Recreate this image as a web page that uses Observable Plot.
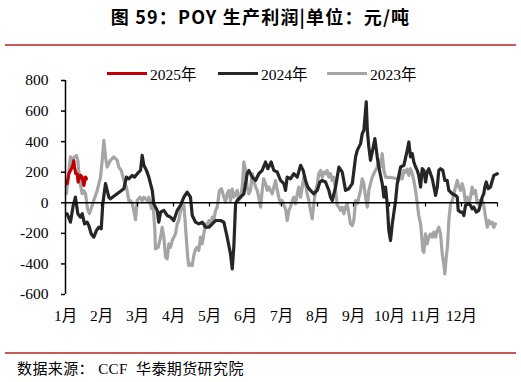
<!DOCTYPE html>
<html><head><meta charset="utf-8">
<script src="https://cdn.jsdelivr.net/npm/d3@7"></script>
<script src="https://cdn.jsdelivr.net/npm/@observablehq/plot@0.6"></script>
<style>
body{margin:0;background:#fff;width:521px;height:382px;position:relative;overflow:hidden;font-family:"Liberation Serif","Noto Sans CJK SC",serif;color:#000;}
#title{position:absolute;left:0;top:4px;width:521px;text-align:center;font-weight:700;font-size:18px;letter-spacing:1.2px;font-family:"Noto Sans CJK SC",sans-serif;line-height:24px;white-space:pre;}
#rule1{position:absolute;left:5px;width:511px;top:44px;height:2px;background:#c55a57;}
#legend{position:absolute;top:62px;left:0;width:521px;height:22px;z-index:2;}
.item{position:absolute;top:0;display:flex;align-items:center;height:22px;font-size:15.5px;white-space:nowrap;}
.sw{width:40px;height:3px;margin-right:3px;}
#chart{position:absolute;left:0;top:60px;}
#rule2{position:absolute;left:5px;width:511px;top:352px;height:2px;background:#c55a57;}
#foot{position:absolute;left:17px;top:358px;font-size:15px;letter-spacing:0.4px;line-height:22px;white-space:pre;}
</style>
</head>
<body>
<div id="title">图 59：POY 生产利润|单位：元/吨</div>
<div id="rule1"></div>
<div id="legend"></div>
<div id="chart"></div>
<div id="rule2"></div>
<div id="foot">数据来源： CCF  华泰期货研究院</div>
<script>
const monthLabels = ["1月","2月","3月","4月","5月","6月","7月","8月","9月","10月","11月","12月"];
const yTicks = [-600,-400,-200,0,200,400,600,800];
const seriesNames = ["2025年","2024年","2023年"];

const days2025 = [1.4,2.8,4.2,5.7,7.0,7.6,8.7,9.9,10.7,11.8,12.7,14.1,15.5,16.9,17.7];
const profit2025 = [125,190,212,234,275,234,190,190,135,168,180,168,114,168,157];

const days2024 = [1.4,4.2,6.5,8.4,10.4,12.7,14.1,16.1,18.3,19.7,21.7,23.9,26.2,28.1,30.2,31.5,33.8,36.6,38.0,
49.3,51.5,53.5,56.4,58.3,61.9,63.4,64.8,66.2,68.4,70.4,71.8,73.3,74.6,77.5,78.8,80.3,83.1,85.9,88.7,91.5,94.4,97.2,
100.0,102.8,105.6,107.1,109.9,112.6,115.5,118.3,121.1,124.0,126.8,131.0,133.8,136.6,139.4,140.9,142.2,143.7,145.1,
147.9,150.7,153.5,154.9,157.8,160.6,163.3,166.2,169.0,170.9,173.8,176.0,178.9,181.7,184.5,185.9,187.3,190.1,192.9,
195.8,198.6,200.8,202.8,204.7,207.0,209.8,212.7,214.9,216.9,219.7,222.5,223.9,225.4,228.2,231.0,233.8,236.6,239.4,
242.3,245.1,246.5,249.3,250.7,252.1,254.1,255.0,256.3,257.7,259.2,261.4,263.4,264.7,267.6,269.0,270.4,271.8,273.2,
274.6,276.1,278.9,280.3,283.1,285.9,288.7,290.1,291.5,293.0,294.3,295.8,297.2,298.5,300.0,301.4,302.8,304.2,305.6,
307.0,309.9,312.7,314.1,315.4,316.9,318.8,320.5,322.5,323.9,326.8,329.6,331.0,331.8,333.8,335.2,336.6,338.0,340.8,
342.2,343.6,345.0,347.0,349.2,352.1,353.4,354.3,355.5,357.2,359.1,360.6,361.9,364.8];
const profit2024 = [-72,-127,-17,37,-72,-94,-72,-138,-127,-149,-203,-225,-181,-160,-170,-7,125,37,26,
92,168,157,179,168,201,212,310,245,212,168,125,81,-7,-50,-127,-61,-50,-83,-94,-116,-50,-17,
37,70,37,-83,-127,-138,-127,-160,-160,-138,-116,-116,-127,-225,-334,-433,-291,-7,15,
37,59,190,212,168,146,190,212,267,223,267,212,201,146,125,81,168,157,190,
168,245,212,146,103,81,59,81,136,146,136,81,37,15,103,234,201,81,92,
125,300,343,387,452,474,660,474,365,278,332,420,300,234,125,37,103,-7,-181,
-247,-138,15,125,234,245,343,398,300,321,267,234,212,179,103,223,212,136,201,
223,157,48,103,212,223,212,146,146,81,59,48,37,-50,-61,-61,-83,-17,-7,
-17,-39,-28,-61,-50,37,59,103,136,92,103,146,179,190];

const days2023 = [0.8,4.2,5.7,7.6,9.3,10.4,11.8,14.1,15.5,16.9,18.6,20.3,22.0,23.9,26.8,29.6,31.0,32.4,33.8,35.2,
38.0,40.8,43.7,45.0,47.1,49.3,51.5,53.5,54.9,56.4,57.7,59.2,60.6,62.8,64.8,66.2,69.0,70.4,72.7,73.8,75.5,76.0,
78.3,80.3,81.7,83.1,84.5,85.9,87.3,88.7,90.2,92.9,94.4,95.7,97.2,98.6,100.0,100.8,102.0,103.3,104.2,105.6,107.1,
108.4,109.9,111.3,112.6,114.1,115.5,116.9,118.3,119.7,121.1,122.5,124.0,125.3,126.8,128.2,130.1,131.8,133.8,135.2,
136.6,138.0,139.4,140.9,142.2,143.7,145.1,146.4,147.9,149.3,150.7,152.1,153.5,154.9,156.3,157.8,159.1,160.6,162.0,
163.3,164.8,166.2,167.5,169.0,170.4,171.8,173.2,174.7,176.0,177.5,178.9,180.2,181.7,183.1,184.5,185.9,187.3,188.7,
190.1,191.6,192.9,194.4,195.8,197.1,198.6,200.0,201.4,202.8,204.2,205.6,207.0,208.5,209.8,211.3,212.7,214.0,215.5,
216.9,218.3,219.7,221.1,222.5,223.9,225.4,226.7,228.2,229.6,231.0,232.4,233.8,235.2,236.6,238.0,239.4,240.8,242.3,
243.6,245.1,246.5,247.9,249.3,250.7,252.1,253.5,255.0,256.3,257.7,259.2,260.5,261.9,263.4,264.7,266.2,267.6,269.0,
270.4,276.1,280.3,281.6,283.1,284.5,285.9,287.3,288.7,290.1,291.5,293.0,294.3,295.8,297.2,298.5,300.0,300.8,301.9,
302.8,304.2,305.6,307.0,308.4,309.9,311.2,312.7,314.1,315.4,316.9,318.3,319.6,320.5,321.7,322.8,323.9,325.3,326.8,
328.1,329.6,331.0,332.3,333.8,335.2,336.6,338.0,339.4,340.8,342.2,343.6,345.0,346.4,347.9,349.2,350.6,352.1,353.4,
354.9,356.3,357.7,359.1,360.6,361.9,363.3];
const profit2023 = [59,300,278,300,310,278,150,60,80,60,-40,-70,-30,15,81,168,278,409,300,234,
278,300,278,234,212,146,103,15,15,-7,-50,-110,15,37,15,37,15,37,-39,15,-181,-302,
-291,-225,-160,-225,-356,-367,-269,-291,-247,-203,-138,-116,-50,-39,-17,-94,-225,-356,-411,-400,-411,
-345,-302,-291,-313,-225,-269,-203,-138,-160,-116,-149,-94,-116,-50,-28,81,92,37,4,
59,81,15,90,37,59,81,15,37,103,267,212,103,59,81,190,146,103,81,
37,-28,81,157,125,81,103,81,59,103,146,81,37,-7,15,-17,-39,-116,-50,
-28,15,37,-7,59,103,37,103,168,125,59,15,-50,-105,-7,81,120,190,212,
168,201,190,212,168,190,146,168,81,-17,-28,-50,-28,-72,-28,-7,-72,-138,-149,
-116,15,-7,37,81,157,125,37,-28,81,125,168,190,212,234,278,234,321,212,
168,164,157,146,190,157,212,200,220,179,223,190,146,81,-7,-83,-138,-203,-313,
-324,-203,-269,-225,-203,-225,-192,-225,-181,-160,-203,-334,-400,-466,-356,-280,-116,-7,15,
59,103,146,103,81,125,81,-7,37,-7,37,103,59,81,-7,15,-17,15,-17,
-94,-160,-116,-138,-127,-160,-138];

const colors = {"2025年":"#c00000","2024年":"#262626","2023年":"#a5a5a5"};

const rows = (days, vals) => days.map((d, i) => ({d, v: vals[i]}));
const monthStarts = d3.range(13).map(k => k * 365 / 12);

// legend
const legendLeft = [107, 218, 327];
const legend = document.getElementById("legend");
seriesNames.forEach((name, i) => {
  const it = document.createElement("div");
  it.className = "item";
  it.style.left = legendLeft[i] + "px";
  const sw = document.createElement("span");
  sw.className = "sw";
  sw.style.background = colors[name];
  const tx = document.createElement("span");
  tx.textContent = name;
  it.appendChild(sw); it.appendChild(tx);
  legend.appendChild(it);
});

const lineOpts = (name) => ({x: "d", y: "v", stroke: colors[name], strokeWidth: 3.2, strokeLinejoin: "round", strokeLinecap: "round"});

const chart = Plot.plot({
  width: 521, height: 280,
  marginTop: 20, marginBottom: 46, marginLeft: 65, marginRight: 24,
  x: {domain: [0, 365]},
  y: {domain: [-600, 800]},
  style: {fontFamily: '"Liberation Serif","Noto Sans CJK SC",serif', fontSize: "15.5px", color: "#000", background: "transparent", overflow: "visible"},
  marks: [
    Plot.axisY({ticks: yTicks, tickSize: 4, tickPadding: 13, tickFormat: d => String(d), label: null, strokeWidth: 1.5}),
    Plot.axisX({ticks: monthStarts.slice(0, 12), tickSize: 0, tickPadding: 15, tickFormat: d => monthLabels[Math.round(d * 12 / 365)], label: null}),
    Plot.line(rows(days2023, profit2023), lineOpts("2023年")),
    Plot.line(rows(days2024, profit2024), lineOpts("2024年")),
    Plot.line(rows(days2025, profit2025), lineOpts("2025年")),
    Plot.ruleY([0], {stroke: "#000", strokeWidth: 1.5}),
    Plot.ruleX(monthStarts, {y1: 0, y2: -28, stroke: "#000", strokeWidth: 1.2}),
    Plot.ruleX([0], {y1: -600, y2: 800, stroke: "#000", strokeWidth: 1.5})
  ]
});
document.getElementById("chart").appendChild(chart);
</script>
</body></html>
